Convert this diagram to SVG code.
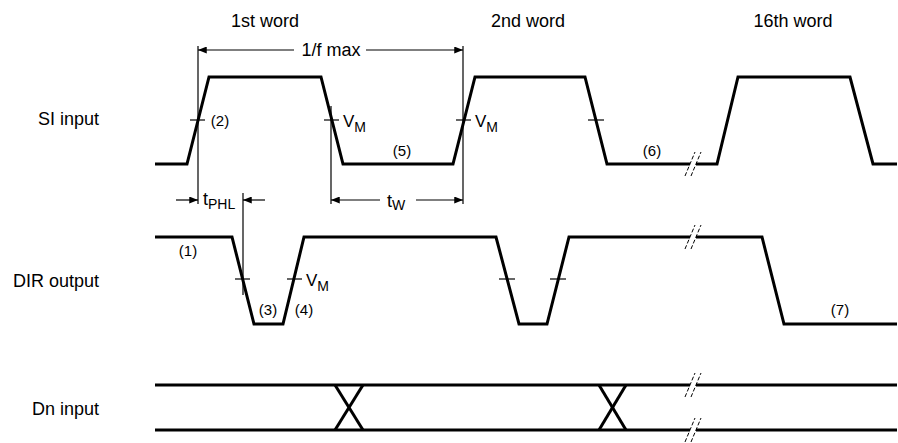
<svg xmlns="http://www.w3.org/2000/svg" width="898" height="443" viewBox="0 0 898 443">
<style>
.sig{fill:none;stroke:#000;stroke-width:3;stroke-linejoin:miter}
.thin{fill:none;stroke:#000;stroke-width:1.2}
.brk{fill:none;stroke:#000;stroke-width:1;stroke-dasharray:4,2}
text{font-family:"Liberation Sans",Arial,sans-serif;fill:#000}
.lbl{font-size:18px}
.num{font-size:15px;text-anchor:middle}
.vm{font-size:17px}
.sub{font-size:14px}
</style>
<defs>
<marker id="ah" viewBox="0 0 10 8" refX="10" refY="4" markerWidth="10" markerHeight="7" markerUnits="userSpaceOnUse" orient="auto">
<path d="M0,0 L10,4 L0,8 z" fill="#000"/>
</marker>
</defs>
<rect width="898" height="443" fill="#fff"/>
<g id="labels">
<text class="lbl" x="99" y="125" text-anchor="end">SI input</text>
<text class="lbl" x="99" y="287" text-anchor="end">DIR output</text>
<text class="lbl" x="99" y="415" text-anchor="end">Dn input</text>
<text class="lbl" x="265" y="27" text-anchor="middle">1st word</text>
<text class="lbl" x="528" y="27" text-anchor="middle">2nd word</text>
<text class="lbl" x="793" y="27" text-anchor="middle">16th word</text>
</g>
<g id="si-input">
<polyline class="sig" points="155,164 187,164 209,77 321,77 343,164 453,164 475,77 585,77 607,164 690,164"/>
<polyline class="sig" points="696,164 717,164 738,77 850,77 873,164 897,164"/>
<line class="brk" x1="685" y1="176" x2="695" y2="152"/>
<line class="brk" x1="691" y1="176" x2="701" y2="152"/>
<line class="thin" x1="190" y1="120" x2="205" y2="120"/>
<line class="thin" x1="324" y1="120" x2="339" y2="120"/>
<line class="thin" x1="456" y1="120" x2="471" y2="120"/>
<line class="thin" x1="588" y1="120" x2="604" y2="120"/>
<text class="num" x="220" y="126">(2)</text>
<text class="num" x="402" y="156">(5)</text>
<text class="num" x="652" y="156">(6)</text>
<text class="vm" x="343" y="127">V<tspan class="sub" dy="5">M</tspan></text>
<text class="vm" x="475" y="127">V<tspan class="sub" dy="5">M</tspan></text>
</g>
<g id="dir-output">
<polyline class="sig" points="155,237 232,237 254,324 283,324 304,237 496,237 519,324 547,324 569,237 690,237"/>
<polyline class="sig" points="696,237 762,237 784,324 897,324"/>
<line class="brk" x1="685" y1="249" x2="695" y2="225"/>
<line class="brk" x1="691" y1="249" x2="701" y2="225"/>
<line class="thin" x1="235" y1="279" x2="250" y2="279"/>
<line class="thin" x1="287" y1="279" x2="302" y2="279"/>
<line class="thin" x1="499" y1="279" x2="515" y2="279"/>
<line class="thin" x1="550" y1="279" x2="566" y2="279"/>
<text class="num" x="188" y="256">(1)</text>
<text class="num" x="268" y="315">(3)</text>
<text class="num" x="304" y="315">(4)</text>
<text class="num" x="840" y="315">(7)</text>
<text class="vm" x="306" y="286">V<tspan class="sub" dy="5">M</tspan></text>
</g>
<g id="dn-input">
<polyline class="sig" points="155,385 690,385"/>
<polyline class="sig" points="696,385 897,385"/>
<polyline class="sig" points="155,430 690,430"/>
<polyline class="sig" points="696,430 897,430"/>
<line class="sig" stroke-width="2.5" x1="335" y1="385" x2="363" y2="430"/>
<line class="sig" stroke-width="2.5" x1="335" y1="430" x2="363" y2="385"/>
<line class="sig" stroke-width="2.5" x1="599" y1="385" x2="626" y2="430"/>
<line class="sig" stroke-width="2.5" x1="599" y1="430" x2="626" y2="385"/>
<line class="brk" x1="685" y1="397" x2="695" y2="373"/>
<line class="brk" x1="691" y1="397" x2="701" y2="373"/>
<line class="brk" x1="685" y1="442" x2="695" y2="418"/>
<line class="brk" x1="691" y1="442" x2="701" y2="418"/>
</g>
<g id="connectors">
<line class="thin" x1="198" y1="46" x2="198" y2="204"/>
<line class="thin" x1="331" y1="106" x2="331" y2="204"/>
<line class="thin" x1="463" y1="46" x2="463" y2="204"/>
<line class="thin" x1="243" y1="193" x2="243" y2="295"/>
<line class="thin" x1="294" y1="50" x2="198" y2="50" marker-end="url(#ah)"/>
<line class="thin" x1="366" y1="50" x2="463" y2="50" marker-end="url(#ah)"/>
<text class="lbl" x="331" y="56" text-anchor="middle">1/f max</text>
<line class="thin" x1="380" y1="200" x2="331" y2="200" marker-end="url(#ah)"/>
<line class="thin" x1="416" y1="200" x2="463" y2="200" marker-end="url(#ah)"/>
<text class="lbl" x="387" y="207">t<tspan class="sub" dy="3">W</tspan></text>
<line class="thin" x1="176" y1="200" x2="198" y2="200" marker-end="url(#ah)"/>
<line class="thin" x1="265" y1="200" x2="243" y2="200" marker-end="url(#ah)"/>
<text class="lbl" x="203" y="205">t<tspan class="sub" dy="4">PHL</tspan></text>
</g>
</svg>
